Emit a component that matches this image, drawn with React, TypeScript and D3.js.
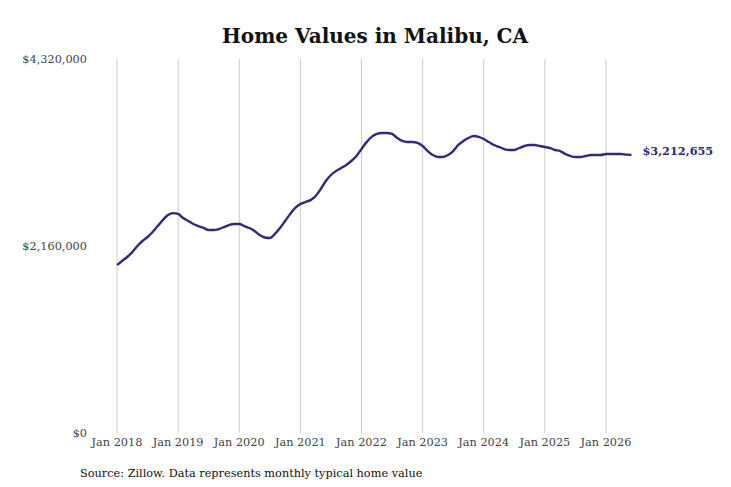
import { useEffect, useRef } from 'react'
import * as d3 from 'd3'

// monthly typical home value, Jan 2018 .. Jun 2026
const startYear = 2018
const homeValues = [
  1940000, 1987000, 2033000, 2090000, 2160000, 2218000, 2264000, 2322000, 2390000, 2460000, 2518000, 2540000,
  2530000, 2483000, 2449000, 2414000, 2390000, 2368000, 2345000, 2345000, 2356000, 2379000, 2402000, 2414000,
  2414000, 2390000, 2368000, 2333000, 2287000, 2258000, 2252000, 2300000, 2368000, 2449000, 2530000, 2600000,
  2645000, 2668000, 2690000, 2737000, 2818000, 2911000, 2980000, 3026000, 3061000, 3096000, 3142000, 3200000,
  3280000, 3360000, 3420000, 3454000, 3465000, 3465000, 3454000, 3408000, 3373000, 3361000, 3361000, 3350000,
  3315000, 3257000, 3211000, 3188000, 3188000, 3211000, 3257000, 3327000, 3373000, 3408000, 3430000, 3420000,
  3396000, 3361000, 3327000, 3304000, 3280000, 3269000, 3269000, 3292000, 3315000, 3327000, 3327000, 3315000,
  3304000, 3292000, 3269000, 3257000, 3223000, 3200000, 3188000, 3188000, 3200000, 3211000, 3211000, 3211000,
  3223000, 3223000, 3223000, 3222000, 3215000, 3212655,
]
const yTicks = [0, 2160000, 4320000]
const xTickYears = [2018, 2019, 2020, 2021, 2022, 2023, 2024, 2025, 2026]

const title = 'Home Values in Malibu, CA'
const source = 'Source: Zillow. Data represents monthly typical home value'

export default function App() {
  const svgRef = useRef<SVGSVGElement>(null)

  useEffect(() => {
    if (!svgRef.current) return
    const svg = d3.select(svgRef.current)
    svg.selectAll('*').remove()

    const width = 731
    const height = 487
    const margin = { top: 59, right: 125, bottom: 54, left: 117 }
    const font = "'DejaVu Serif', serif"
    const lineColor = '#2e2a7d'
    const small = '11.3px'

    svg.attr('width', width).attr('height', height)

    // month index from Jan 2018
    const x = d3.scaleLinear()
      .domain([0, 96])
      .range([margin.left, 606])

    const y = d3.scaleLinear()
      .domain([0, 4320000])
      .range([height - margin.bottom, margin.top])

    // title
    svg.append('text')
      .attr('x', 375)
      .attr('y', 43)
      .attr('text-anchor', 'middle')
      .style('font-family', font)
      .style('font-size', '20px')
      .style('font-weight', 'bold')
      .style('fill', '#111')
      .text(title)

    // vertical grid
    svg.selectAll('.grid')
      .data(xTickYears)
      .enter()
      .append('line')
      .attr('class', 'grid')
      .attr('x1', d => x((d - startYear) * 12))
      .attr('x2', d => x((d - startYear) * 12))
      .attr('y1', y(4320000))
      .attr('y2', y(0))
      .attr('stroke', '#cccccc')
      .attr('stroke-width', 1)

    // y labels
    svg.selectAll('.ylab')
      .data(yTicks)
      .enter()
      .append('text')
      .attr('class', 'ylab')
      .attr('x', 87)
      .attr('y', d => y(d))
      .attr('dy', '0.35em')
      .attr('text-anchor', 'end')
      .style('font-family', font)
      .style('font-size', small)
      .style('fill', '#444')
      .text(d => d3.format('$,')(d))

    // x labels
    svg.selectAll('.xlab')
      .data(xTickYears)
      .enter()
      .append('text')
      .attr('class', 'xlab')
      .attr('x', d => x((d - startYear) * 12))
      .attr('y', 442)
      .attr('dy', '0.35em')
      .attr('text-anchor', 'middle')
      .style('font-family', font)
      .style('font-size', small)
      .style('fill', '#444')
      .text(d => `Jan ${d}`)

    const line = d3.line<number>()
      .x((d, i) => x(i))
      .y(d => y(d))
      .curve(d3.curveMonotoneX)

    svg.append('path')
      .datum(homeValues)
      .attr('d', line)
      .attr('fill', 'none')
      .attr('stroke', lineColor)
      .attr('stroke-width', 2.4)

    // end label
    const last = homeValues.length - 1
    svg.append('text')
      .attr('x', x(last) + 11)
      .attr('y', y(homeValues[last]) - 4)
      .attr('dy', '0.35em')
      .style('font-family', font)
      .style('font-size', small)
      .style('font-weight', 'bold')
      .style('fill', lineColor)
      .text(d3.format('$,')(homeValues[last]))

    // source
    svg.append('text')
      .attr('x', 80)
      .attr('y', 477)
      .style('font-family', font)
      .style('font-size', small)
      .style('fill', '#111')
      .text(source)
  }, [])

  return <svg ref={svgRef} style={{ position: 'absolute', left: 0, top: 0 }}></svg>
}
